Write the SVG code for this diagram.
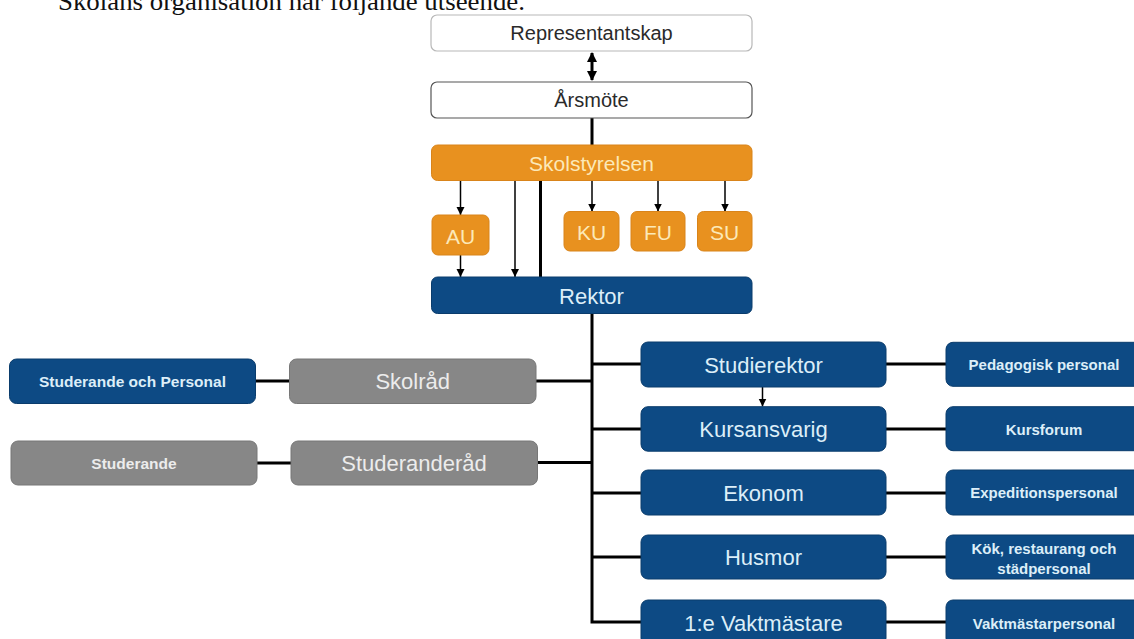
<svg xmlns="http://www.w3.org/2000/svg" width="1134" height="639" viewBox="0 0 1134 639">
<style>
.bg{fill:#ffffff}
.title{font-family:"Liberation Serif","Times New Roman",serif;font-size:25px;fill:#111}
.t{font-family:"Liberation Sans",Arial,sans-serif;text-anchor:middle;dominant-baseline:central}
.white{fill:#ffffff;stroke:#b8b8b8;stroke-width:1.2}
.white2{fill:#ffffff;stroke:#555555;stroke-width:1.2}
.orange{fill:#E8911F;stroke:#d9841a;stroke-width:1}
.blue{fill:#0D4A84;stroke:#0a3c6c;stroke-width:1}
.gray{fill:#878787;stroke:#777777;stroke-width:1}
.tdark{fill:#2a2a2a;font-size:20px}
.torange{fill:#FCE9B8;font-size:21px}
.tblue{fill:#DCEEF8;font-size:22px}
.tgray{fill:#ECECEC;font-size:22px}
.tsmallb{fill:#DCEEF8;font-size:15px;font-weight:bold}
.tsmallg{fill:#ECECEC;font-size:15.5px;font-weight:bold}
.tleftb{fill:#DCEEF8;font-size:15.5px;font-weight:bold}
.thin{stroke:#000;stroke-width:1.5;fill:none}
.thick{stroke:#000;stroke-width:3;fill:none}
</style>
<defs>
<marker id="ah" markerUnits="userSpaceOnUse" markerWidth="10" markerHeight="10" refX="8" refY="4" orient="auto">
<path d="M0,0 L8,4 L0,8 Z" fill="#000"/>
</marker>
<marker id="ahB" markerUnits="userSpaceOnUse" markerWidth="12" markerHeight="12" refX="9" refY="5" orient="auto-start-reverse">
<path d="M0,0 L10,5 L0,10 Z" fill="#000"/>
</marker>
</defs>
<rect class="bg" x="0" y="0" width="1134" height="639"/>
<text class="title" x="58" y="10" textLength="467" lengthAdjust="spacingAndGlyphs">Skolans organisation har följande utseende.</text>

<g id="connectors">
<line class="thick" x1="592" y1="53" x2="592" y2="80" marker-start="url(#ahB)" marker-end="url(#ahB)"/>
<line class="thick" x1="592" y1="118" x2="592" y2="145"/>
<line class="thin" x1="460.5" y1="180.5" x2="460.5" y2="215" marker-end="url(#ah)"/>
<line class="thin" x1="592" y1="180.5" x2="592" y2="211.5" marker-end="url(#ah)"/>
<line class="thin" x1="658" y1="180.5" x2="658" y2="211.5" marker-end="url(#ah)"/>
<line class="thin" x1="725" y1="180.5" x2="725" y2="211.5" marker-end="url(#ah)"/>
<line class="thin" x1="460.5" y1="255" x2="460.5" y2="277" marker-end="url(#ah)"/>
<line class="thin" x1="515" y1="180.5" x2="515" y2="277" marker-end="url(#ah)"/>
<line class="thick" x1="540.5" y1="180.5" x2="540.5" y2="277"/>
<path class="thick" d="M592,313.5 V622 H641"/>
<line class="thick" x1="592" y1="364" x2="641" y2="364"/>
<line class="thick" x1="592" y1="429" x2="641" y2="429"/>
<line class="thick" x1="592" y1="493" x2="641" y2="493"/>
<line class="thick" x1="592" y1="557" x2="641" y2="557"/>
<line class="thick" x1="536" y1="381" x2="592" y2="381"/>
<line class="thick" x1="537" y1="462.5" x2="592" y2="462.5"/>
<line class="thick" x1="255.5" y1="381" x2="289.5" y2="381"/>
<line class="thick" x1="257" y1="463" x2="291" y2="463"/>
<line class="thick" x1="886" y1="364" x2="946" y2="364"/>
<line class="thick" x1="886" y1="429" x2="946" y2="429"/>
<line class="thick" x1="886" y1="493" x2="946" y2="493"/>
<line class="thick" x1="886" y1="557" x2="946" y2="557"/>
<line class="thick" x1="886" y1="622" x2="946" y2="622"/>
<line class="thin" x1="762.5" y1="387" x2="762.5" y2="406.5" marker-end="url(#ah)"/>
</g>

<g id="representantskap"><rect class="white" x="431" y="15" width="321" height="36" rx="6"/><text class="t tdark" x="591.5" y="33">Representantskap</text></g>
<g id="arsmote"><rect class="white2" x="431" y="82" width="321" height="36" rx="6"/><text class="t tdark" x="591.5" y="100">Årsmöte</text></g>
<g id="skolstyrelsen"><rect class="orange" x="431.5" y="145" width="320.5" height="35.5" rx="6"/><text class="t torange" x="591.5" y="163">Skolstyrelsen</text></g>
<g id="au"><rect class="orange" x="432" y="215" width="57" height="40" rx="6"/><text class="t torange" x="460.5" y="236">AU</text></g>
<g id="ku"><rect class="orange" x="564" y="211.5" width="55" height="39.5" rx="6"/><text class="t torange" x="591.5" y="232">KU</text></g>
<g id="fu"><rect class="orange" x="631" y="211.5" width="54" height="39.5" rx="6"/><text class="t torange" x="658" y="232">FU</text></g>
<g id="su"><rect class="orange" x="697.5" y="211.5" width="54.5" height="39.5" rx="6"/><text class="t torange" x="724.7" y="232">SU</text></g>
<g id="rektor"><rect class="blue" x="431.5" y="277" width="320.5" height="36.5" rx="6"/><text class="t tblue" x="591.5" y="296">Rektor</text></g>

<g id="studerande-och-personal"><rect class="blue" x="9.5" y="359" width="246" height="44.5" rx="7"/><text class="t tleftb" x="132.5" y="381.5">Studerande och Personal</text></g>
<g id="skolrad"><rect class="gray" x="289.5" y="359" width="246.5" height="44.5" rx="7"/><text class="t tgray" x="412.7" y="381.5">Skolråd</text></g>
<g id="studerande"><rect class="gray" x="11" y="441" width="246" height="44" rx="7"/><text class="t tsmallg" x="134" y="463">Studerande</text></g>
<g id="studeranderad"><rect class="gray" x="291" y="441" width="246.5" height="44" rx="7"/><text class="t tgray" x="414" y="463">Studeranderåd</text></g>

<g id="studierektor"><rect class="blue" x="641" y="342" width="245" height="45" rx="7"/><text class="t tblue" x="763.5" y="365">Studierektor</text></g>
<g id="kursansvarig"><rect class="blue" x="641" y="406.7" width="245" height="44.5" rx="7"/><text class="t tblue" x="763.5" y="429.5">Kursansvarig</text></g>
<g id="ekonom"><rect class="blue" x="641" y="470" width="245" height="45" rx="7"/><text class="t tblue" x="763.5" y="493">Ekonom</text></g>
<g id="husmor"><rect class="blue" x="641" y="535" width="245" height="44" rx="7"/><text class="t tblue" x="763.5" y="557.5">Husmor</text></g>
<g id="vaktmastare"><rect class="blue" x="641" y="600" width="245" height="45" rx="7"/><text class="t tblue" x="763.5" y="623">1:e Vaktmästare</text></g>

<g id="pedagogisk-personal"><rect class="blue" x="946" y="342.3" width="198" height="44" rx="7"/><text class="t tsmallb" x="1044" y="364.5">Pedagogisk personal</text></g>
<g id="kursforum"><rect class="blue" x="946" y="406.7" width="198" height="44" rx="7"/><text class="t tsmallb" x="1044" y="429">Kursforum</text></g>
<g id="expeditionspersonal"><rect class="blue" x="946" y="470" width="198" height="45" rx="7"/><text class="t tsmallb" x="1044" y="492.5">Expeditionspersonal</text></g>
<g id="kok"><rect class="blue" x="946" y="535" width="198" height="44" rx="7"/><text class="t tsmallb" x="1044" y="548">Kök, restaurang och</text><text class="t tsmallb" x="1044" y="568">städpersonal</text></g>
<g id="vaktmastarpersonal"><rect class="blue" x="946" y="600" width="198" height="45" rx="7"/><text class="t tsmallb" x="1044" y="623">Vaktmästarpersonal</text></g>
</svg>
